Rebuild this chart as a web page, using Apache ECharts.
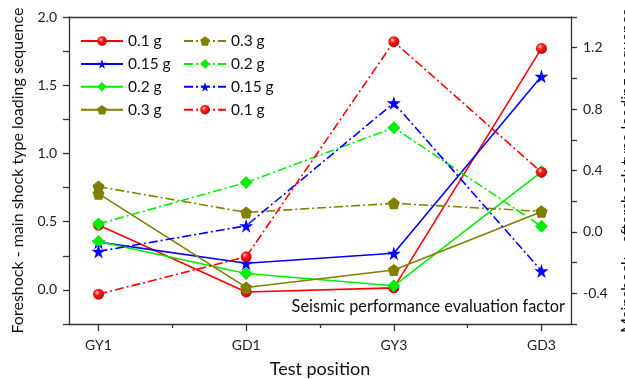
<!DOCTYPE html>
<html><head><meta charset="utf-8">
<script src="https://cdn.jsdelivr.net/npm/echarts@6/dist/echarts.min.js"></script>
<style>html,body{margin:0;padding:0;background:#fff}#c{width:625px;height:379px}</style>
</head><body><div id="c"></div>
<script>
const categories = ['GY1', 'GD1', 'GY3', 'GD3'];
// Foreshock - main shock (left axis, solid)
const fm01 = [0.475, -0.015, 0.015, 1.77];
const fm015 = [0.35, 0.195, 0.268, 1.565];
const fm02 = [0.355, 0.12, 0.03, 0.865];
const fm03 = [0.705, 0.018, 0.146, 0.573];
// Mainshock - aftershock (right axis, dash-dot)
const ma03 = [0.295, 0.127, 0.186, 0.134];
const ma02 = [0.052, 0.322, 0.679, 0.036];
const ma015 = [-0.127, 0.04, 0.84, -0.254];
const ma01 = [-0.406, -0.162, 1.239, 0.389];
const leftTicks = [-0.25, 0, 0.25, 0.5, 0.75, 1.0, 1.25, 1.5, 1.75, 2.0];
const leftLabels = [0, 0.5, 1.0, 1.5, 2.0];
const rightTicks = [-0.6, -0.4, -0.2, 0, 0.2, 0.4, 0.6, 0.8, 1.0, 1.2, 1.4];
const rightLabels = [-0.4, 0, 0.4, 0.8, 1.2];
const xMajor = [0, 1, 2, 3];
const xMinor = [0.5, 1.5, 2.5];

const FONT = 'Lato';
const RED = '#ff0000', BLUE = '#0000ff', GREEN = '#00ee00', OLIVE = '#808000';
const ball = {type: 'radial', x: 0.38, y: 0.35, r: 0.65,
  colorStops: [{offset: 0, color: '#ffd0d0'}, {offset: 0.35, color: '#ff2020'}, {offset: 1, color: '#c00000'}]};
const STAR = 'path://M50,0 L61,35 L98,35 L68,57 L79,91 L50,70 L21,91 L32,57 L2,35 L39,35 Z';
const PENT = 'path://M50,0 L100,38 L81,100 L19,100 L0,38 Z';
const DASHDOT = [9, 3, 2, 3];

function mk(id, vals, color, symbol, size, yIdx, dashed, fill) {
  return {
    id: id, name: id, type: 'line', xAxisIndex: 0, yAxisIndex: yIdx,
    data: vals.map((v, i) => [i, v]),
    symbol: symbol, symbolSize: size, showSymbol: true,
    lineStyle: {color: color, width: 1.6, type: dashed ? DASHDOT : 'solid'},
    itemStyle: {color: fill || color, borderWidth: 0},
    emphasis: {disabled: true}, animation: false
  };
}
const labelMap = {
  a1: '0.1 g', a2: '0.15 g', a3: '0.2 g', a4: '0.3 g',
  b1: '0.3 g', b2: '0.2 g', b3: '0.15 g', b4: '0.1 g'
};
const series = [
  mk('a1', fm01, RED, 'circle', 11, 0, false, ball),
  mk('a2', fm015, BLUE, STAR, 14, 0, false),
  mk('a3', fm02, GREEN, 'diamond', 13, 0, false),
  mk('a4', fm03, OLIVE, PENT, 12, 0, false),
  mk('b1', ma03, OLIVE, PENT, 12, 1, true),
  mk('b2', ma02, GREEN, 'diamond', 13, 1, true),
  mk('b3', ma015, BLUE, STAR, 14, 1, true),
  mk('b4', ma01, RED, 'circle', 11, 1, true, ball)
];
const legendBase = {
  orient: 'vertical', top: 33, padding: 0, itemWidth: 42, itemHeight: 12, itemGap: 6.9,
  textStyle: {fontFamily: FONT, fontSize: 15.5, color: '#111'},
  formatter: n => labelMap[n], selectedMode: false
};
const axisFont = {fontFamily: FONT, fontSize: 14, color: '#222'};
const lineStyle = {color: '#333', width: 1.3};
const chart = echarts.init(document.getElementById('c'));
chart.setOption({
  backgroundColor: '#fff',
  animation: false,
  grid: {left: 69, right: 54, top: 17, bottom: 55, containLabel: false, outerBoundsMode: 'none'},
  legend: [
    Object.assign({}, legendBase, {left: 80, data: ['a1', 'a2', 'a3', 'a4']}),
    Object.assign({}, legendBase, {left: 183, data: ['b1', 'b2', 'b3', 'b4']})
  ],
  xAxis: [
    {type: 'value', position: 'bottom', min: -0.2, max: 3.2,
     axisLine: {show: true, onZero: false, lineStyle: lineStyle},
     axisTick: {show: true, customValues: xMajor, length: 7, lineStyle: lineStyle},
     axisLabel: {show: true, customValues: xMajor, margin: 14, formatter: v => categories[Math.round(v)], ...axisFont},
     splitLine: {show: false},
     name: 'Test position', nameLocation: 'middle', nameGap: 36,
     nameTextStyle: {fontFamily: FONT, fontSize: 18, color: '#111'}},
    {type: 'value', position: 'bottom', min: -0.2, max: 3.2,
     axisLine: {show: false, onZero: false},
     axisTick: {show: true, customValues: xMinor, length: 4, lineStyle: lineStyle},
     axisLabel: {show: false}, splitLine: {show: false}},
    {type: 'value', position: 'top', min: -0.2, max: 3.2,
     axisLine: {show: true, onZero: false, lineStyle: lineStyle},
     axisTick: {show: false}, axisLabel: {show: false}, splitLine: {show: false}}
  ],
  yAxis: [
    {type: 'value', position: 'left', min: -0.25, max: 2.0,
     axisLine: {show: true, onZero: false, lineStyle: lineStyle},
     axisTick: {show: true, customValues: leftTicks, length: 6, lineStyle: lineStyle},
     axisLabel: {show: true, customValues: leftLabels, margin: 12, formatter: v => v.toFixed(1), ...axisFont},
     splitLine: {show: false},
     name: 'Foreshock - main shock type loading sequence', nameLocation: 'middle', nameGap: 43, nameRotate: 90,
     nameTextStyle: {fontFamily: FONT, fontSize: 16, color: '#111'}},
    {type: 'value', position: 'right', min: -0.6, max: 1.4,
     axisLine: {show: true, onZero: false, lineStyle: lineStyle},
     axisTick: {show: true, customValues: rightTicks, length: 6, lineStyle: lineStyle},
     axisLabel: {show: true, customValues: rightLabels, margin: 12, formatter: v => v.toFixed(1), ...axisFont},
     splitLine: {show: false},
     name: 'Mainshock - aftershock type loading sequence', nameLocation: 'middle', nameGap: 24, nameRotate: 90,
     nameTextStyle: {fontFamily: FONT, fontSize: 16, color: '#111'}}
  ],
  graphic: [{
    type: 'text', right: 60, top: 299,
    style: {text: 'Seismic performance evaluation factor', fontFamily: FONT, fontSize: 16.3, fill: '#111'}
  }],
  series: series
});
</script></body></html>
